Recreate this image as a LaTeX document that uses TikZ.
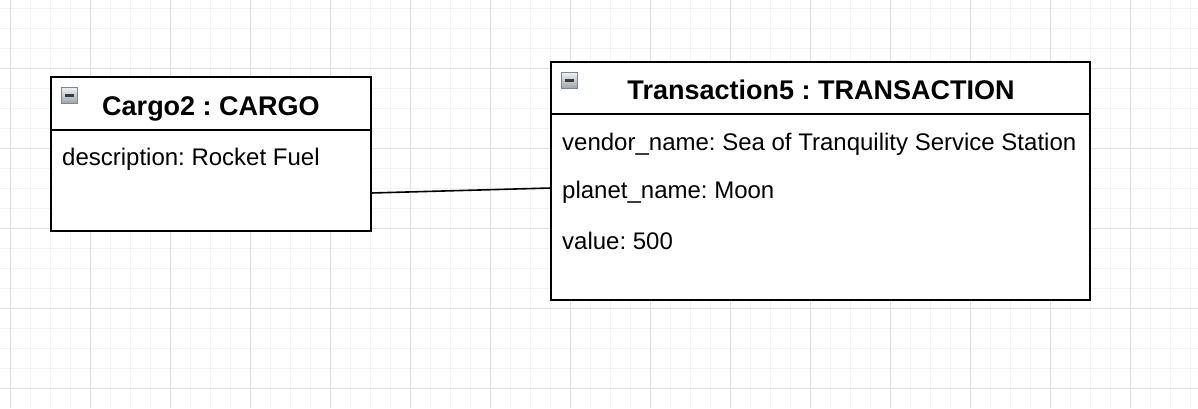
\documentclass[tikz,border=0pt]{standalone}
\usepackage{fontspec}
\setmainfont{Liberation Sans}
\frenchspacing
\definecolor{gridminor}{HTML}{F2F2F2}
\definecolor{gridmajor}{HTML}{DDDDDD}
\definecolor{icontop}{HTML}{EEF2F6}
\definecolor{iconbot}{HTML}{9EA6AE}
\definecolor{iconborder}{HTML}{7E868E}
\definecolor{iconbar}{HTML}{3A3A3A}
\tikzset{
  objbox/.style={draw=black, line width=2pt, fill=white, rectangle, inner sep=0pt, outer sep=0pt, anchor=north west},
  titletext/.style={font=\fontsize{27}{30}\selectfont\bfseries, anchor=base, inner sep=0pt},
  attrtext/.style={font=\fontsize{24}{27}\selectfont, anchor=base west, inner sep=0pt},
  link/.style={draw=black, line width=1.6pt},
  minusicon/.pic={
    \shade[top color=icontop, bottom color=iconbot] (0,0) rectangle (16,16);
    \draw[iconborder, line width=0.8pt] (0,0) rectangle (16,16);
    \fill[iconbar] (3.5,7) rectangle (12.5,9.5);
  }
}
\begin{document}
\begin{tikzpicture}[x=1pt, y=-1pt]
\useasboundingbox (0,0) rectangle (1198,408);
\fill[white] (0,0) rectangle (1198,408);
% grid
\foreach \x in {10,30,...,1190} \draw[gridminor, line width=1pt] (\x,0) -- (\x,408);
\foreach \y in {8,28,...,400} \draw[gridminor, line width=1pt] (0,\y) -- (1198,\y);
\foreach \x in {10,90,...,1190} \draw[gridmajor, line width=1pt] (\x,0) -- (\x,408);
\foreach \y in {68,148,...,400} \draw[gridmajor, line width=1pt] (0,\y) -- (1198,\y);
% Cargo box
\node[objbox, minimum width=320pt, minimum height=154pt] (cargo) at (51,77) {};
\draw[line width=2pt] (51,130) -- (371,130);
\pic at (61,87) {minusicon};
\node[titletext] (cargotitle) at (211,115) {Cargo2 : CARGO};
\node[attrtext] (cargodesc) at (62,165) {description: Rocket Fuel};
% Transaction box
\node[objbox, minimum width=539pt, minimum height=238pt] (trans) at (551,62) {};
\draw[line width=2pt] (551,114) -- (1090,114);
\pic at (561,72) {minusicon};
\node[titletext] (transtitle) at (821,99) {Transaction5 : TRANSACTION};
\node[attrtext] (vendor) at (562,150) {vendor\_name: Sea of Tranquility Service Station};
\node[attrtext] (planet) at (562,198) {planet\_name: Moon};
\node[attrtext] (value) at (562,249) {value: 500};
% connector
\draw[link] ([yshift=-39pt]cargo.east) -- ([yshift=-7pt]trans.west);
\end{tikzpicture}
\end{document}
